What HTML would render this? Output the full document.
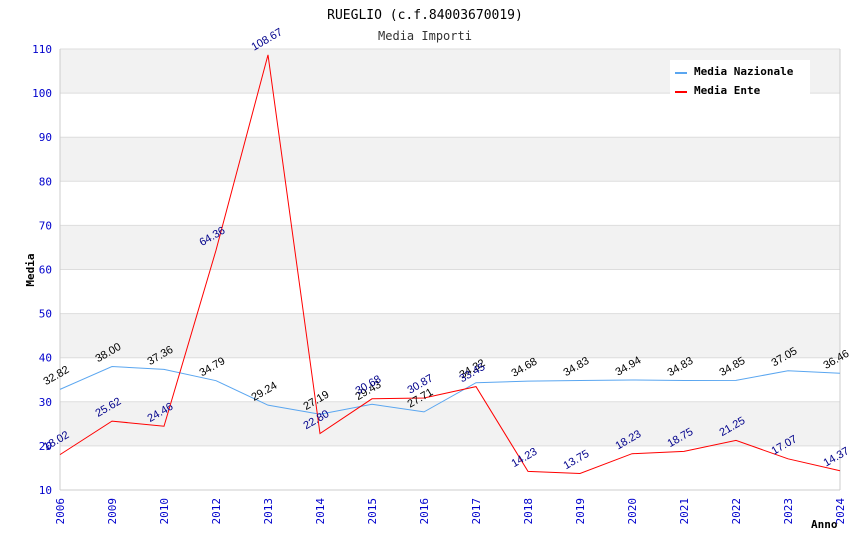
<!DOCTYPE html>
<html><head><meta charset="utf-8"><style>
body{margin:0;background:#fff;}
svg{display:block;font-family:"DejaVu Sans Mono","Liberation Mono",monospace;}
</style></head><body>
<svg id="c" width="850" height="550" xmlns="http://www.w3.org/2000/svg">
<text x="425" y="19" text-anchor="middle" font-size="13" fill="#000">RUEGLIO (c.f.84003670019)</text>
<text x="425" y="40" text-anchor="middle" font-size="12" fill="#333">Media Importi</text>
<g id="bands"></g><g id="axes"></g><g id="series"></g><g id="labels"></g>
<text x="34" y="270" transform="rotate(-90 34 270)" text-anchor="middle" font-size="11" font-weight="bold" fill="#000">Media</text>
<text x="811" y="528" font-size="11" font-weight="bold" fill="#000">Anno</text>
<g>
<rect x="670" y="60" width="140" height="36" fill="#fff"/>
<line x1="675" y1="73" x2="687" y2="73" stroke="#5aa6f0" stroke-width="2"/>
<text x="694" y="75" font-size="11" font-weight="bold">Media Nazionale</text>
<line x1="675" y1="92" x2="687" y2="92" stroke="#f00" stroke-width="2"/>
<text x="694" y="94" font-size="11" font-weight="bold">Media Ente</text>
</g>
</svg>
<script>
const years=["2006","2009","2010","2012","2013","2014","2015","2016","2017","2018","2019","2020","2021","2022","2023","2024"];
const nazionale=[32.82,38.00,37.36,34.79,29.24,27.19,29.43,27.71,34.32,34.68,34.83,34.94,34.83,34.85,37.05,36.46];
const ente=[18.02,25.62,24.46,64.36,108.67,22.80,30.68,30.87,33.45,14.23,13.75,18.23,18.75,21.25,17.07,14.37];
const yTicks=[10,20,30,40,50,60,70,80,90,100,110];
const NS="http://www.w3.org/2000/svg";
const X0=60,X1=840,Y0=490,Y1=49,ymin=10,ymax=110;
const x=i=>X0+i*(X1-X0)/(years.length-1);
const y=v=>Y0-(v-ymin)*(Y0-Y1)/(ymax-ymin);
function mk(t,a,p){const e=document.createElementNS(NS,t);for(const k in a)e.setAttribute(k,a[k]);p.appendChild(e);return e;}
const bands=document.getElementById('bands'),axes=document.getElementById('axes'),ser=document.getElementById('series'),lab=document.getElementById('labels');
for(let i=0;i<yTicks.length-1;i++){
  const r=mk('rect',{x:X0,y:y(yTicks[i+1]),width:X1-X0,height:y(yTicks[i])-y(yTicks[i+1]),fill:(i%2==1)?'#f2f2f2':'#fff'},bands);
  
  
}
yTicks.forEach(v=>{
  const l=mk('line',{x1:X0,x2:X1,y1:y(v),y2:y(v),stroke:'#ddd','stroke-width':1},axes);
  
  
  const t=mk('text',{x:X0-8,y:y(v)+4,'text-anchor':'end','font-size':11,fill:'#00c'},axes);
  t.textContent=v;
  
  
});
mk('line',{x1:X0,x2:X0,y1:Y1,y2:Y0,stroke:'#ccc'},axes);
mk('line',{x1:X1,x2:X1,y1:Y1,y2:Y0,stroke:'#ccc'},axes);
mk('line',{x1:X0,x2:X1,y1:Y0,y2:Y0,stroke:'#ccc'},axes);
years.forEach((yr,i)=>{
  const t=mk('text',{x:x(i)+4,y:Y0+8,'text-anchor':'end','font-size':11,fill:'#00c',transform:`rotate(-90 ${x(i)+4} ${Y0+8})`},axes);
  t.textContent=yr;
  
  
});
function series(vals,color,lc,name){
  const p=mk('polyline',{points:vals.map((v,i)=>x(i)+','+y(v)).join(' '),fill:'none',stroke:color,'stroke-width':1},ser);
  
  
  vals.forEach((v,i)=>{
    const px=x(i)-14,py=y(v)-4;
    const t=mk('text',{x:px,y:py,'font-size':11,fill:lc,'font-family':'Liberation Sans, sans-serif',transform:`rotate(-30 ${px} ${py})`},lab);
    t.textContent=v.toFixed(2);
    
    
  });
}
series(nazionale,'#5aa6f0','#000','nazionale');
series(ente,'#f00','#00008b','ente');
</script>
</body></html>
